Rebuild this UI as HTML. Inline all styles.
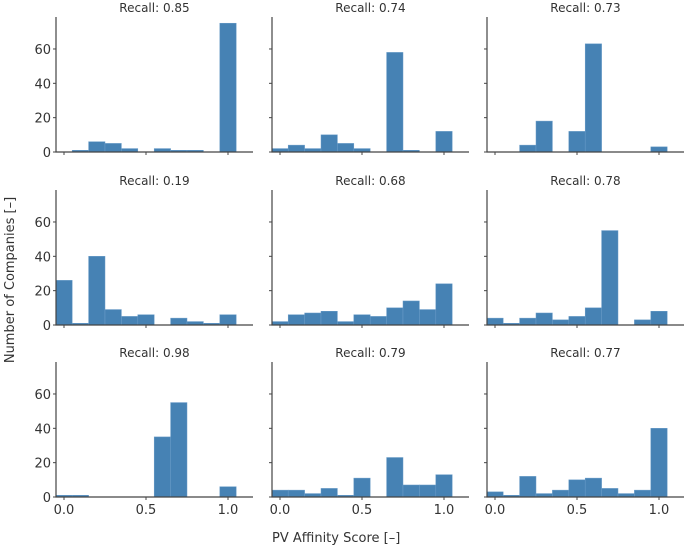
<!DOCTYPE html>
<html><head><meta charset="utf-8"><style>
body{margin:0;background:#fff;}
svg{display:block;font-family:"DejaVu Sans","Liberation Sans",sans-serif;}
</style></head><body>
<svg id="c" width="685" height="547"></svg>
<script>
const binCenters=[0,0.1,0.2,0.3,0.4,0.5,0.6,0.7,0.8,0.9,1.0];
const recallTitles=["Recall: 0.85","Recall: 0.74","Recall: 0.73","Recall: 0.19","Recall: 0.68","Recall: 0.78","Recall: 0.98","Recall: 0.79","Recall: 0.77"];
const counts1=[0,1,6,5,2,0,2,1,1,0,75];
const counts2=[2,4,2,10,5,2,0,58,1,0,12];
const counts3=[0,0,4,18,0,12,63,0,0,0,3];
const counts4=[26,1,40,9,5,6,0,4,2,1,6];
const counts5=[2,6,7,8,2,6,5,10,14,9,24];
const counts6=[4,1,4,7,3,5,10,55,0,3,8];
const counts7=[1,1,0,0,0,0,35,55,0,0,6];
const counts8=[4,4,2,5,1,11,0,23,7,7,13];
const counts9=[3,1,12,2,4,10,11,5,2,4,40];
const allCounts=[counts1,counts2,counts3,counts4,counts5,counts6,counts7,counts8,counts9];
const yTicks=[0,20,40,60];
const xTicks=[0.0,0.5,1.0];
const xTickLabels=["0.0","0.5","1.0"];
const yTickLabels=["0","20","40","60"];

const NS="http://www.w3.org/2000/svg";
const svg=document.getElementById('c');
function mk(t,a,p){const e=document.createElementNS(NS,t);for(const k in a)e.setAttribute(k,a[k]);(p||svg).appendChild(e);return e;}
const colX=[56,272,487], rowZero=[152,325,497], W=197, H=135;
const binW=0.1;
for(let i=0;i<9;i++){
  const r=Math.floor(i/3), c=i%3;
  const L=colX[c], Z=rowZero[r];
  const xs=v=>L+8+v*164;
  const ys=v=>Z-v*1.717;
  const g=mk('g',{});
  
  
  const t=mk('text',{x:L+W/2,y:Z-H-5,'text-anchor':'middle','font-size':'12',fill:'#333'},g);
  t.textContent=recallTitles[i];
  
  
  const cs=allCounts[i];
  binCenters.forEach((b,j)=>{
    if(cs[j]<=0)return;
    const x0=xs(b-binW/2), x1=xs(b+binW/2);
    const rc=mk('rect',{x:x0,y:ys(cs[j]),width:x1-x0,height:Z-ys(cs[j]),fill:'#4682b4',stroke:'#6a9cc8','stroke-width':'0.5'},g);
    
    
  });
  const sp=mk('path',{d:`M${L},${Z-H}V${Z}H${L+W}`,stroke:'#444','stroke-width':'1.2',fill:'none'},g);
  
  
  yTicks.forEach((v,k)=>{
    mk('line',{x1:L-3,x2:L,y1:ys(v),y2:ys(v),stroke:'#444'},g);
    if(c===0){
      const tl=mk('text',{x:L-5,y:ys(v)+5,'text-anchor':'end','font-size':'13',fill:'#333'},g);
      tl.textContent=yTickLabels[k];
      
      
    }
  });
  xTicks.forEach((v,k)=>{
    mk('line',{x1:xs(v),x2:xs(v),y1:Z,y2:Z+3,stroke:'#444'},g);
    if(r===2){
      const tl=mk('text',{x:xs(v),y:Z+17,'text-anchor':'middle','font-size':'13',fill:'#333'},g);
      tl.textContent=xTickLabels[k];
      
      
    }
  });
}
const yl=mk('text',{x:0,y:0,transform:'translate(14,280) rotate(-90)','text-anchor':'middle','font-size':'13',fill:'#333'});
yl.textContent='Number of Companies [–]';


const xl=mk('text',{x:272,y:542,'font-size':'13',fill:'#333'});
xl.textContent='PV Affinity Score [–]';


</script>
</body></html>
